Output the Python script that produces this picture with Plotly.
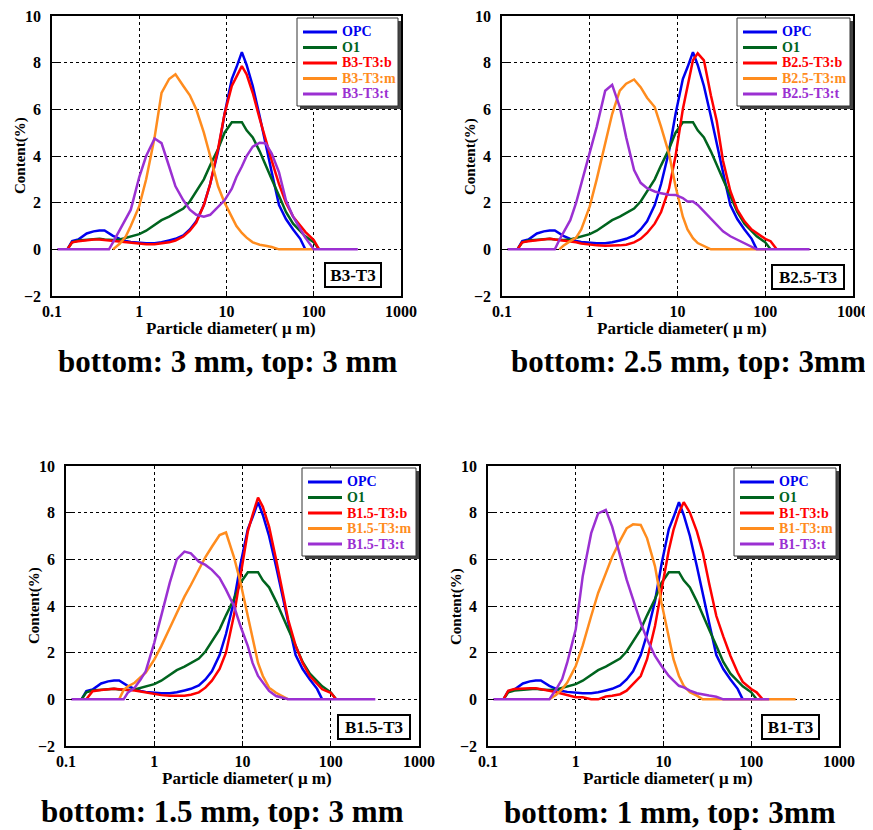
import plotly.graph_objects as go

# The page places the figure 8 px in from the top-left corner, so the figure is
# made 8 px smaller and every pixel position is measured on the screen and shifted.
OFF = 8
W, H = 873 - OFF, 830 - OFF
N = None

# Particle diameter grid (um)
X = [0.115, 0.15, 0.17, 0.2, 0.25, 0.3, 0.35, 0.4, 0.45, 0.5, 0.6, 0.7, 0.8, 1.0, 1.2, 1.5, 1.8, 2.2, 2.6,
     3.2, 3.8, 4.5, 5.5, 6.5, 8, 9.5, 11.5, 13, 15, 17, 20, 24, 28, 33, 40, 48, 58, 70, 80, 100, 115, 135,
     160, 200, 320]

OPC = [N, 0, 0.35, 0.42, 0.68, 0.77, 0.81, 0.81, 0.7, 0.58, 0.45, 0.36, 0.32, 0.28, 0.26, 0.26, 0.3, 0.38,
       0.45, 0.6, 0.85, 1.2, 1.9, 2.8, 4.2, 5.8, 7.3, 7.8, 8.45, 7.9, 7.0, 5.7, 4.5, 3.3, 1.9, 1.3, 0.85,
       0.45, 0, N, N, N, N, N, N]
O1 = [N, 0, 0.3, 0.38, 0.42, 0.45, 0.45, 0.42, 0.4, 0.4, 0.42, 0.48, 0.55, 0.65, 0.8, 1.05, 1.25, 1.4,
      1.55, 1.75, 2.05, 2.5, 3.0, 3.6, 4.3, 5.0, 5.45, 5.45, 5.45, 5.1, 4.8, 4.2, 3.6, 3.0, 2.3, 1.6, 1.1,
      0.77, 0.56, 0.3, 0, N, N, N, N]

B3_b = [N, 0, 0.3, 0.35, 0.4, 0.42, 0.42, 0.4, 0.39, 0.38, 0.35, 0.32, 0.3, 0.25, 0.22, 0.22, 0.25, 0.3,
        0.38, 0.55, 0.8, 1.15, 1.9, 2.8, 4.3, 5.8, 7.0, 7.4, 7.85, 7.5, 6.7, 5.6, 4.7, 3.8, 2.8, 2.0, 1.4,
        1.0, 0.75, 0.4, 0, N, N, N, N]
B3_m = [N, N, N, N, N, N, N, N, N, 0, 0.25, 0.55, 1.0, 1.85, 3.0, 4.8, 6.7, 7.3, 7.5, 7.0, 6.6, 6.0, 5.0,
        4.0, 2.7, 2.0, 1.4, 1.0, 0.7, 0.5, 0.3, 0.2, 0.15, 0.1, 0, 0, 0, 0, 0, 0, N, N, N, N, N]
B3_t = [0, 0, 0, 0, 0, 0, 0, 0, 0, 0.3, 0.85, 1.27, 1.7, 3.1, 4.0, 4.75, 4.55, 3.55, 2.7, 2.1, 1.7, 1.48,
        1.4, 1.48, 1.84, 2.1, 2.6, 3.1, 3.55, 4.0, 4.4, 4.57, 4.55, 4.1, 3.3, 2.1, 1.4, 0.85, 0.5, 0, 0, 0,
        0, 0, 0]

B25_b = [N, 0, 0.3, 0.35, 0.4, 0.42, 0.45, 0.42, 0.4, 0.38, 0.35, 0.3, 0.25, 0.2, 0.17, 0.15, 0.15, 0.17,
         0.2, 0.3, 0.45, 0.7, 1.1, 1.6, 2.6, 4.0, 6.0, 7.0, 8.1, 8.4, 8.1, 6.6, 5.5, 3.8, 2.5, 1.7, 1.2,
         0.85, 0.7, 0.45, 0.35, 0, N, N, N]
B25_m = [N, N, N, N, N, N, N, N, 0, 0.15, 0.35, 0.5, 0.85, 1.84, 3.0, 4.55, 5.8, 6.8, 7.1, 7.28, 6.95,
         6.5, 6.1, 5.25, 4.1, 2.7, 1.4, 0.85, 0.48, 0.27, 0.13, 0, 0, 0, 0, 0, 0, 0, 0, 0, N, N, N, N, N]
B25_t = [0, 0, 0, 0, 0, 0, 0, 0, 0.4, 0.7, 1.25, 2.0, 2.8, 4.1, 5.25, 6.8, 7.05, 6.1, 4.8, 3.4, 2.85,
         2.62, 2.48, 2.4, 2.34, 2.33, 2.2, 2.05, 2.05, 1.9, 1.62, 1.34, 1.05, 0.77, 0.56, 0.41, 0.27, 0.13,
         0, 0, 0, 0, 0, 0, 0]

B15_b = [N, N, 0, 0.35, 0.4, 0.43, 0.45, 0.43, 0.42, 0.4, 0.38, 0.34, 0.3, 0.22, 0.18, 0.15, 0.15, 0.15,
         0.2, 0.3, 0.5, 0.8, 1.3, 2.0, 3.6, 5.3, 7.2, 7.9, 8.65, 8.25, 7.4, 6.0, 4.7, 3.4, 2.3, 1.56, 1.0,
         0.64, 0.43, 0.28, 0, N, N, N, N]
B15_m = [N, N, N, N, N, N, N, 0, 0.4, 0.55, 0.71, 0.95, 1.14, 1.7, 2.28, 3.06, 3.7, 4.4, 4.9, 5.55, 6.1,
         6.54, 7.04, 7.15, 6.1, 5.0, 3.55, 2.56, 1.56, 1.0, 0.5, 0.28, 0.14, 0, N, N, N, N, N, N, N, N, N,
         N, N]
B15_t = [0, 0, 0, 0, 0, 0, 0, 0, 0, 0.28, 0.5, 0.85, 1.2, 2.42, 3.55, 5.0, 6.0, 6.33, 6.26, 5.9, 5.76,
         5.55, 5.2, 4.7, 4.0, 3.13, 2.28, 1.56, 1.0, 0.71, 0.36, 0.14, 0.07, 0, 0, 0, 0, 0, 0, 0, 0, 0, 0,
         0, 0]

B1_b = [N, 0, 0.37, 0.44, 0.47, 0.48, 0.47, 0.44, 0.4, 0.37, 0.3, 0.23, 0.16, 0.09, 0.09, 0, 0, 0.12,
        0.15, 0.22, 0.37, 0.65, 1.0, 1.72, 3.14, 4.7, 6.4, 7.26, 8.0, 8.45, 8.0, 7.2, 6.3, 5.0, 3.57, 2.7,
        1.86, 1.15, 0.75, 0.44, 0.3, 0, N, N, N]
B1_m = [N, N, N, N, N, N, N, N, N, 0, 0.2, 0.44, 0.72, 1.43, 2.3, 3.57, 4.56, 5.4, 6.1, 6.8, 7.33, 7.5,
        7.47, 6.9, 5.7, 4.13, 2.7, 1.72, 1.0, 0.58, 0.3, 0.16, 0, 0, 0, 0, 0, 0, 0, 0, 0, 0, 0, 0, 0]
B1_t = [0, 0, 0, 0, 0, 0, 0, 0, 0, 0, 0.44, 0.87, 1.58, 3.0, 5.27, 7.12, 7.97, 8.12, 7.4, 6.13, 5.13,
        4.28, 3.28, 2.57, 1.86, 1.43, 1.0, 0.8, 0.58, 0.51, 0.37, 0.26, 0.2, 0.16, 0.11, 0, 0, 0, 0, 0, 0,
        0, 0, N, N]

X_TICKS = [0.1, 1, 10, 100, 1000]
X_TICK_TEXT = ["0.1", "1", "10", "100", "1000"]
Y_TICKS = [-2, 0, 2, 4, 6, 8, 10]

SAMPLES = ["B3-T3", "B2.5-T3", "B1.5-T3", "B1-T3"]
SERIES = [(B3_b, B3_m, B3_t), (B25_b, B25_m, B25_t), (B15_b, B15_m, B15_t), (B1_b, B1_m, B1_t)]
TITLES = ["bottom: 3 mm, top: 3 mm", "bottom: 2.5 mm, top: 3mm",
          "bottom: 1.5 mm, top: 3 mm", "bottom: 1 mm, top: 3mm"]
COLORS = ["#0000ee", "#00641e", "#ff0000", "#ff8c1e", "#9b30d2"]

for s in [OPC, O1] + [v for tr in SERIES for v in tr]:
    assert len(s) == len(X), len(s)

# layout geometry (screen pixels)
PLOTS = [(52, 401, 16, 296), (502, 853, 16, 296), (66, 419, 466, 746), (488, 839, 466, 746)]
LEG_W = [101, 113, 114, 102]
LABEL_BOX = [(382, 288, 52), (845, 290, 68), (411, 740, 68), (820, 740, 53)]
TITLE_POS = [(227, 361), (688, 361), (222, 811), (670, 812)]

FONT = "Liberation Serif"


def fx(p):
    return (p - OFF) / W


def fy(p):
    return 1 - (p - OFF) / H


fig = go.Figure()
shapes = []
annotations = []

for i in range(4):
    n = i + 1
    xa = "x" if n == 1 else f"x{n}"
    ya = "y" if n == 1 else f"y{n}"
    b, m, t = SERIES[i]
    names = ["OPC", "O1", f"{SAMPLES[i]}:b", f"{SAMPLES[i]}:m", f"{SAMPLES[i]}:t"]
    for ys, nm, col in zip([OPC, O1, b, m, t], names, COLORS):
        fig.add_trace(go.Scatter(x=X, y=ys, mode="lines", name=nm, showlegend=False,
                                 line=dict(color=col, width=2.5), xaxis=xa, yaxis=ya,
                                 connectgaps=False))
    x0, x1, y0, y1 = PLOTS[i]
    axfont = dict(family=FONT, size=16, color="black", weight="bold")
    fig.layout[f"xaxis{n if n > 1 else ''}"] = dict(
        domain=[fx(x0), fx(x1)], anchor=ya, type="log", range=[-1, 3],
        tickvals=X_TICKS, ticktext=X_TICK_TEXT, tickfont=axfont,
        ticks="inside", ticklen=5, tickwidth=1, tickcolor="black",
        showgrid=True, gridcolor="black", griddash="dot", gridwidth=1,
        showline=True, linecolor="black", linewidth=1.5, mirror=True, zeroline=False,
        ticklabelstandoff=0, automargin=False, ticklabeloverflow="allow")
    fig.layout[f"yaxis{n if n > 1 else ''}"] = dict(
        domain=[fy(y1), fy(y0)], anchor=xa, range=[-2, 10], tickvals=Y_TICKS,
        tickfont=axfont, ticks="inside", ticklen=6, tickwidth=1, tickcolor="black",
        showgrid=True, gridcolor="black", griddash="dot",
        gridwidth=1, showline=True, linecolor="black", linewidth=1.5, mirror=True,
        zeroline=False, ticklabelstandoff=6, automargin=False, ticklabeloverflow="allow")

    # axis titles
    annotations.append(dict(text="Particle diameter( μ m)", x=fx((x0 + x1) / 2 + 4), y=fy(y1 + 32),
                            xref="paper", yref="paper", showarrow=False,
                            xanchor="center", yanchor="middle",
                            font=dict(family=FONT, size=17, color="black", weight="bold")))
    annotations.append(dict(text="Content(%)", x=fx(x0 - 32), y=fy((y0 + y1) / 2),
                            xref="paper", yref="paper", showarrow=False, textangle=-90,
                            xanchor="center", yanchor="middle",
                            font=dict(family=FONT, size=15, color="black", weight="bold")))

    # legend box with shadow
    lw = LEG_W[i]
    lx1 = x1 - 3
    lx0 = lx1 - lw
    ly0 = y0 + 2
    ly1 = ly0 + 88
    shapes.append(dict(type="rect", xref="paper", yref="paper", x0=fx(lx0 + 3), x1=fx(lx1 + 3),
                       y0=fy(ly1 + 3), y1=fy(ly0 + 3), fillcolor="#444444", line=dict(width=0),
                       layer="above"))
    shapes.append(dict(type="rect", xref="paper", yref="paper", x0=fx(lx0), x1=fx(lx1),
                       y0=fy(ly1), y1=fy(ly0), fillcolor="white", line=dict(color="#333333", width=1),
                       layer="above"))
    for k, (nm, col) in enumerate(zip(names, COLORS)):
        ry = ly0 + 14 + k * 15.5
        shapes.append(dict(type="line", xref="paper", yref="paper", x0=fx(lx0 + 6), x1=fx(lx0 + 40),
                           y0=fy(ry), y1=fy(ry), line=dict(color=col, width=3), layer="above"))
        annotations.append(dict(text=nm, x=fx(lx0 + 43), y=fy(ry), xref="paper", yref="paper",
                                xanchor="left", yanchor="middle", showarrow=False,
                                font=dict(family=FONT, size=14, color=col, weight="bold")))

    # sample label box
    rx, by, bw = LABEL_BOX[i]
    annotations.append(dict(text=SAMPLES[i], x=fx(rx), y=fy(by), xref="paper", yref="paper",
                            xanchor="right", yanchor="bottom", showarrow=False,
                            width=bw, height=20, borderpad=1, bordercolor="black", borderwidth=2,
                            bgcolor="white",
                            font=dict(family=FONT, size=17, color="black", weight="bold")))

    # panel caption
    tx, ty = TITLE_POS[i]
    annotations.append(dict(text=TITLES[i], x=fx(tx), y=fy(ty), xref="paper", yref="paper",
                            showarrow=False, xanchor="center", yanchor="middle",
                            font=dict(family=FONT, size=31, color="black", weight="bold")))

fig.update_layout(width=W, height=H, margin=dict(l=0, r=0, t=0, b=0, pad=0, autoexpand=False),
                  paper_bgcolor="white", plot_bgcolor="white", showlegend=False,
                  shapes=shapes, annotations=annotations)

fig.write_html("out.html")
